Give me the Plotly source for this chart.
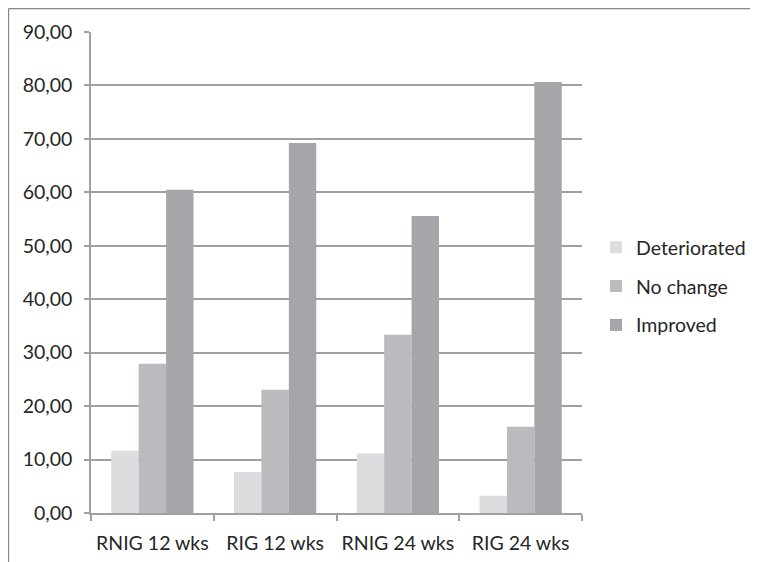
import plotly.graph_objects as go

categories = ["RNIG 12 wks", "RIG 12 wks", "RNIG 24 wks", "RIG 24 wks"]
deteriorated = [11.63, 7.69, 11.11, 3.23]
no_change = [27.91, 23.08, 33.33, 16.13]
improved = [60.47, 69.23, 55.56, 80.65]
series_names = ["Deteriorated", "No change", "Improved"]
colors = ["#DDDDDF", "#BABBBF", "#A5A6AA"]

fig = go.Figure()
for i, (name, vals, col) in enumerate(zip(series_names, [deteriorated, no_change, improved], colors)):
    fig.add_trace(go.Bar(x=categories, y=vals, name=name, legendgroup=str(i),
                         marker=dict(color=col, line=dict(width=0))))

FONT = "Lato, Open Sans, sans-serif"
TXT = "#262626"
W, H = 750, 554
L, T = 83, 24
R = W - 574
B = H - 505
pw, ph = W - L - R, H - T - B

fig.update_layout(
    width=W, height=H,
    margin=dict(l=L, r=R, t=T, b=B, autoexpand=False),
    paper_bgcolor="white", plot_bgcolor="white",
    barmode="group", bargap=0.33, bargroupgap=0,
    separators=",.",
    font=dict(family=FONT, size=19, color=TXT),
    showlegend=True,
    legend=dict(x=(588 - L) / pw, y=(505 - 240 + 20) / ph, xanchor="left", yanchor="top",
                font=dict(size=19.5, family=FONT, color=TXT),
                itemwidth=30, tracegroupgap=10.5, bgcolor="rgba(0,0,0,0)"),
    xaxis=dict(showline=True, linecolor="#A0A0A0", linewidth=1.5,
               ticks="outside", tickson="boundaries", ticklen=6, tickcolor="#A0A0A0", tickwidth=1.5,
               showgrid=False, tickangle=0, ticklabelstandoff=12,
               tickfont=dict(size=19.5, family=FONT, color=TXT), fixedrange=True),
    yaxis=dict(range=[0, 90], dtick=10, tickformat=".2f",
               showline=True, linecolor="#A0A0A0", linewidth=1.5,
               ticks="outside", ticklen=5, tickcolor="#A0A0A0", tickwidth=1.5,
               showgrid=True, gridcolor="#A0A0A0", gridwidth=1.5, zeroline=False,
               ticklabelstandoff=8,
               tickfont=dict(size=19.5, family=FONT, color=TXT), fixedrange=True),
    shapes=[
        dict(type="line", xref="paper", yref="paper",
             x0=(0.6 - L) / pw, x1=(0.6 - L) / pw, y0=1 + (T - 0.6) / ph, y1=-(B + 5) / ph,
             line=dict(color="#888888", width=1.2)),
        dict(type="line", xref="paper", yref="paper",
             x0=(0.6 - L) / pw, x1=(W + 5 - L) / pw, y0=1 + (T - 0.6) / ph, y1=1 + (T - 0.6) / ph,
             line=dict(color="#888888", width=1.2)),
    ],
)

fig.write_html("out.html")
